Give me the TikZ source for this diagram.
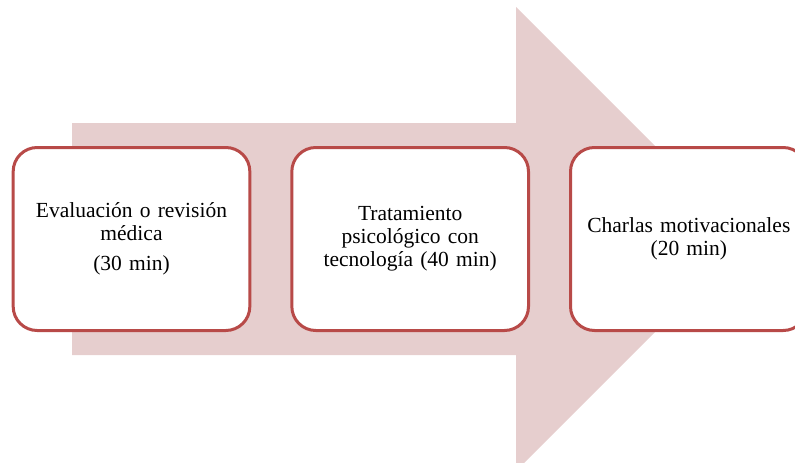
\documentclass[tikz,border=0pt]{standalone}
\usepackage{fontspec}
\setmainfont{Liberation Serif}
\usetikzlibrary{positioning}
\definecolor{arrowpink}{RGB}{230,206,206}
\definecolor{boxred}{RGB}{184,74,72}
\tikzstyle{etapa} = [draw=boxred, line width=3pt, fill=white,
  rounded corners=24pt, minimum width=236pt, minimum height=183pt,
  text width=230pt, align=center, font=\fontsize{21.5}{23}\selectfont]
\newcommand{\etapa}[2]{node (e#1) [etapa] {#2}}

\begin{document}
\begin{tikzpicture}[x=1pt,y=-1pt]
\useasboundingbox (0,0) rectangle (795,463);
% Draw the big arrow in the back
\fill[arrowpink] (72,123) -- (516,123) -- (516,7) -- (748,239)
  -- (516,471) -- (516,355) -- (72,355) -- cycle;
% Draw diagram elements
\path (131.5,239) \etapa{1}{Evaluación o revisión\\ médica\\[7pt] (30 min)};
\node (e2) [etapa, right=39pt of e1] {Tratamiento\\ psicológico con\\ tecnología (40 min)};
\node (e3) [etapa, right=39pt of e2] {Charlas motivacionales\\ (20 min)};
\end{tikzpicture}
\end{document}
